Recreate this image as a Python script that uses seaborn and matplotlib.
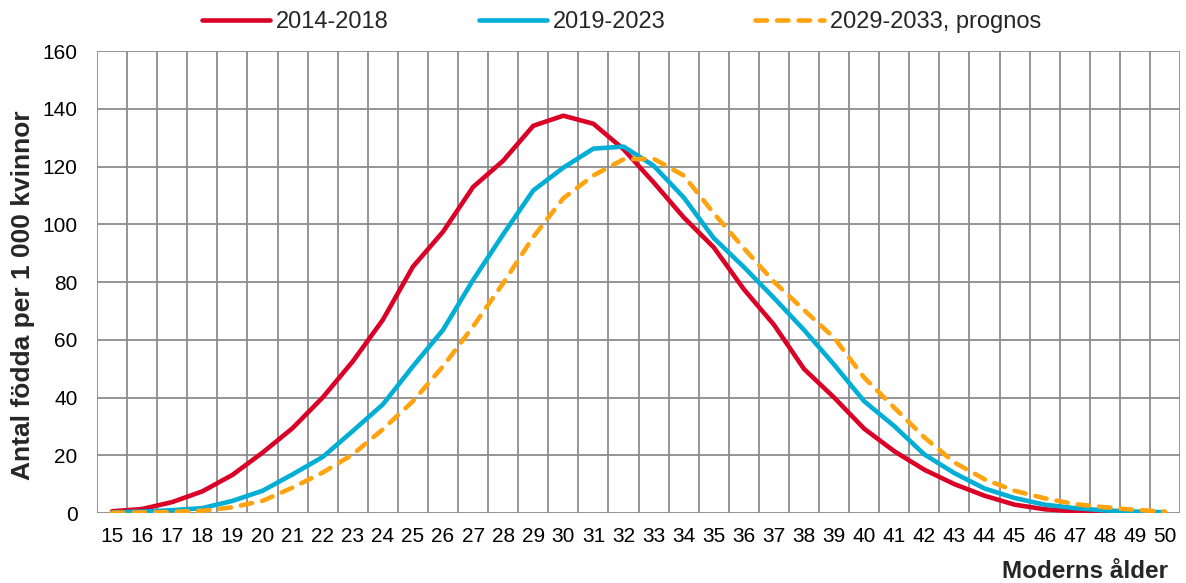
import numpy as np
import pandas as pd
import matplotlib
matplotlib.use("Agg")
import matplotlib.pyplot as plt
import seaborn as sns

# data (births per 1 000 women by mother's age)
ages = list(range(15, 51))
rates_2014_2018 = [0.6, 1.4, 3.8, 7.5, 13.2, 20.9, 29.4, 40.0, 52.5, 66.9,
                   85.3, 97.4, 112.9, 122.0, 134.1, 137.6, 134.8, 126.0, 114.5, 102.4,
                   92.0, 77.5, 65.2, 49.9, 40.0, 29.2, 21.4, 15.0, 10.0, 6.0,
                   2.9, 1.3, 0.6, 0.3, 0.15, 0.1]
rates_2019_2023 = [0.2, 0.5, 1.0, 1.7, 4.2, 7.7, 13.4, 19.4, 28.4, 37.6,
                   50.8, 63.4, 80.7, 96.5, 111.7, 119.6, 126.2, 126.9, 120.3, 109.3,
                   95.2, 85.2, 74.5, 63.4, 51.4, 38.7, 30.1, 20.3, 13.8, 8.5,
                   5.2, 2.9, 1.7, 0.9, 0.5, 0.3]
rates_2029_2033 = [0.1, 0.2, 0.4, 0.8, 2.0, 4.2, 8.8, 14.0, 20.3, 29.0,
                   38.7, 50.8, 64.6, 79.6, 95.6, 109.0, 116.9, 122.5, 122.7, 116.9,
                   103.8, 91.7, 80.1, 70.3, 60.7, 46.9, 36.5, 26.2, 17.5, 11.7,
                   7.7, 5.1, 3.1, 2.0, 1.1, 0.5]
series_names = ["2014-2018", "2019-2023", "2029-2033, prognos"]
series_colors = ["#DA0026", "#00AED6", "#FFA30F"]
y_ticks = list(range(0, 161, 20))

df = pd.DataFrame({
    "age": ages * 3,
    "rate": rates_2014_2018 + rates_2019_2023 + rates_2029_2033,
    "period": [series_names[0]] * len(ages) + [series_names[1]] * len(ages) + [series_names[2]] * len(ages),
})

sns.set_style("white")
plt.rcParams['font.family'] = ['Liberation Sans', 'DejaVu Sans']

fig = plt.figure(figsize=(11.86, 5.83), dpi=100)
ax = fig.add_axes([0.0818, 0.12, 0.9132, 0.7925])

grid_col = "#8C8C8C"
# vertical grid at category boundaries, horizontal at y ticks
for xb in np.arange(14.5, 51, 1.0):
    ax.axvline(xb, color=grid_col, lw=1.3, zorder=0)
for yv in y_ticks:
    ax.axhline(yv, color=grid_col, lw=1.3, zorder=0)

for name, col in zip(series_names, series_colors):
    sub = df[df["period"] == name]
    if "prognos" in name:
        sns.lineplot(data=sub, x="age", y="rate", ax=ax, color=col, lw=3.3,
                     label=name, linestyle=(0, (2.5, 2.2)), dash_capstyle="round", zorder=3)
    else:
        sns.lineplot(data=sub, x="age", y="rate", ax=ax, color=col, lw=3.3,
                     label=name, solid_capstyle="round", zorder=3)

ax.set_xlim(14.5, 50.5)
ax.set_ylim(0, 160)
ax.set_xticks(ages)
ax.set_xticklabels([str(a) for a in ages])
ax.set_yticks(y_ticks)
ax.tick_params(axis="both", length=0, labelsize=15, colors="black")
ax.tick_params(axis="x", pad=10)
ax.tick_params(axis="y", pad=14)
for s in ax.spines.values():
    s.set_visible(False)

ax.set_ylabel("Antal födda per 1 000 kvinnor", fontsize=19, fontweight="bold")
ax.yaxis.set_label_coords(-0.057, 0.472)
ax.set_xlabel("")
fig.text(0.985, 0.008, "Moderns ålder", ha="right", va="baseline", fontsize=17.5, fontweight="bold")

ax.get_legend().remove()
handles, labels = ax.get_legend_handles_labels()
fig.legend(handles, labels, loc="center", bbox_to_anchor=(0.524, 0.962), ncol=3,
           frameon=False, fontsize=17, handlelength=2.9, handletextpad=0.25,
           columnspacing=3.8)

fig.savefig("out.png", dpi=100)
